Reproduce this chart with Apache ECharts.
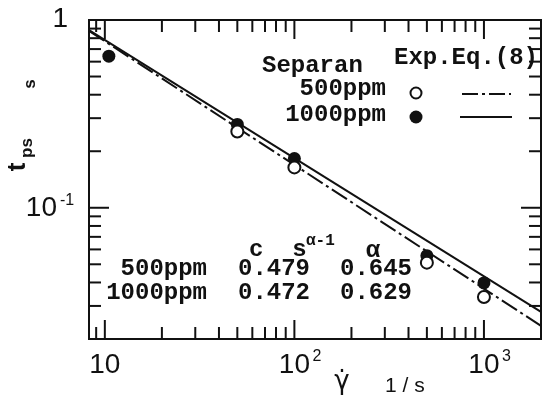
<!DOCTYPE html>
<html>
<head>
<meta charset="utf-8">
<script src="https://cdn.jsdelivr.net/npm/echarts@6.0.0/dist/echarts.min.js"></script>
<style>
  html, body { margin: 0; padding: 0; background: #fff; }
  #chart { width: 544px; height: 398px; }
</style>
</head>
<body>
<div id="chart"></div>
<script>
// axis ranges (log-log)
const xMin = 8.25, xMax = 2000;
const yMin = 0.02, yMax = 1;

// measured points, Separan solutions
const shear500 = [50, 100, 500, 1000];
const tps500 = [0.255, 0.164, 0.051, 0.0335];
const shear1000 = [10.5, 50, 100, 500, 1000];
const tps1000 = [0.642, 0.278, 0.183, 0.0556, 0.0398];

// Eq.(8) lines, read at the plot edges
const fitShear = [8.25, 2000];
const fit500 = [0.875, 0.0235];
const fit1000 = [0.884, 0.0279];

// fit parameter table
const tableNames = ['500ppm', '1000ppm'];
const tableC = ['0.479', '0.472'];
const tableAlpha = ['0.645', '0.629'];

// ticks
const xMajor = [10, 100, 1000];
const xMinor = [9, 20, 30, 40, 50, 60, 70, 80, 90, 200, 300, 400, 500, 600, 700, 800, 900];
const yMajor = [1, 0.1];
const yMinor = [0.02, 0.03, 0.04, 0.05, 0.06, 0.07, 0.08, 0.09, 0.2, 0.3, 0.4, 0.5, 0.6, 0.7, 0.8, 0.9];
const xLabels = [['10', ''], ['10', '2'], ['10', '3']];
const yLabels = [['1', ''], ['10', '-1']];

const ink = '#111';
const sans = 'Liberation Sans';
const mono = 'Liberation Mono';
const monoSize = 24;

const chart = echarts.init(document.getElementById('chart'));

function tickLine(x1, y1, x2, y2) {
    return { type: 'line', shape: { x1: x1, y1: y1, x2: x2, y2: y2 }, style: { stroke: ink, lineWidth: 2 } };
}

function txt(text, x, y, size, align, opts) {
    opts = opts || {};
    return {
        type: 'text', x: x, y: y, rotation: opts.rotation || 0, z: 100,
        style: {
            text: text, fill: ink, align: align, verticalAlign: 'middle',
            fontSize: size, fontFamily: opts.family || mono, fontWeight: opts.weight || 'bold'
        }
    };
}

const xTickData = xMajor.map(v => [v, yMin, 1]).concat(xMinor.map(v => [v, yMin, 0]));
const yTickData = yMajor.map(v => [xMin, v, 1]).concat(yMinor.map(v => [xMin, v, 0]));
const xLabelData = xMajor.map((v, i) => [v, yMin, i]);
const yLabelData = yMajor.map((v, i) => [xMin, v, i]);

const option = {
    animation: false,
    backgroundColor: '#fff',
    grid: { left: 89, top: 20, width: 452, height: 319, show: true, borderColor: ink, borderWidth: 2, backgroundColor: 'transparent' },
    xAxis: {
        type: 'log', logBase: 10, min: xMin, max: xMax,
        axisLine: { show: false }, axisTick: { show: false }, axisLabel: { show: false }, splitLine: { show: false }
    },
    yAxis: {
        type: 'log', logBase: 10, min: yMin, max: yMax,
        axisLine: { show: false }, axisTick: { show: false }, axisLabel: { show: false }, splitLine: { show: false }
    },
    series: [
        {
            type: 'custom', clip: false, silent: true, data: xTickData,
            renderItem: function (params, api) {
                const b = api.coord([api.value(0), yMin]);
                const t = api.coord([api.value(0), yMax]);
                const len = api.value(2) ? 19 : 12;
                return { type: 'group', children: [tickLine(b[0], b[1], b[0], b[1] - len), tickLine(t[0], t[1], t[0], t[1] + len)] };
            }
        },
        {
            type: 'custom', clip: false, silent: true, data: yTickData,
            renderItem: function (params, api) {
                const l = api.coord([xMin, api.value(1)]);
                const r = api.coord([xMax, api.value(1)]);
                const len = api.value(2) ? 20 : 12;
                return { type: 'group', children: [tickLine(l[0], l[1], l[0] + len, l[1]), tickLine(r[0], r[1], r[0] - len, r[1])] };
            }
        },
        {
            type: 'custom', clip: false, silent: true, data: xLabelData,
            renderItem: function (params, api) {
                const p = api.coord([api.value(0), yMin]);
                const lab = xLabels[api.value(2)];
                const kids = [txt(lab[0], p[0], p[1] + 26, 28, 'center', { family: sans, weight: 'normal' })];
                if (lab[1]) kids.push(txt(lab[1], p[0] + 18, p[1] + 18, 16, 'left', { family: sans, weight: 'normal' }));
                return { type: 'group', children: kids };
            }
        },
        {
            type: 'custom', clip: false, silent: true, data: yLabelData,
            renderItem: function (params, api) {
                const p = api.coord([xMin, api.value(1)]);
                const lab = yLabels[api.value(2)];
                const kids = [];
                if (lab[1]) {
                    kids.push(txt(lab[0], p[0] - 32, p[1] + 1, 28, 'right', { family: sans, weight: 'normal' }));
                    kids.push(txt(lab[1], p[0] - 29, p[1] - 7, 16, 'left', { family: sans, weight: 'normal' }));
                } else {
                    kids.push(txt(lab[0], p[0] - 21, p[1] - 1, 28, 'right', { family: sans, weight: 'normal' }));
                }
                return { type: 'group', children: kids };
            }
        },
        {
            name: 'Eq8 500ppm', type: 'line', showSymbol: false, silent: true,
            data: fitShear.map((x, i) => [x, fit500[i]]),
            lineStyle: { color: ink, width: 2, type: [18, 4, 3, 4] }
        },
        {
            name: 'Eq8 1000ppm', type: 'line', showSymbol: false, silent: true,
            data: fitShear.map((x, i) => [x, fit1000[i]]),
            lineStyle: { color: ink, width: 2 }
        },
        {
            name: '1000ppm', type: 'scatter', symbol: 'circle', symbolSize: 13, z: 5,
            data: shear1000.map((x, i) => [x, tps1000[i]]),
            itemStyle: { color: ink, opacity: 1 }
        },
        {
            name: '500ppm', type: 'scatter', symbol: 'circle', symbolSize: 12, z: 6,
            data: shear500.map((x, i) => [x, tps500[i]]),
            itemStyle: { color: '#fff', borderColor: ink, borderWidth: 2, opacity: 1 }
        }
    ],
    graphic: [
        // legend block
        txt('Separan', 262, 66, monoSize, 'left'),
        txt('Exp.Eq.(8)', 394, 58, monoSize, 'left'),
        txt('500ppm', 386, 89, monoSize, 'right'),
        txt('1000ppm', 386, 115, monoSize, 'right'),
        { type: 'circle', shape: { cx: 416, cy: 93, r: 5.5 }, style: { fill: '#fff', stroke: ink, lineWidth: 2 } },
        { type: 'circle', shape: { cx: 416, cy: 117, r: 6.5 }, style: { fill: ink } },
        { type: 'line', shape: { x1: 462, y1: 94, x2: 511, y2: 94 }, style: { stroke: ink, lineWidth: 2, lineDash: [16, 4, 3, 4] } },
        { type: 'line', shape: { x1: 460, y1: 117, x2: 512, y2: 117 }, style: { stroke: ink, lineWidth: 2 } },
        // table header
        txt('c  s', 249, 250, monoSize, 'left'),
        txt('α-1', 306, 241, 16, 'left'),
        txt('α', 373, 251, monoSize, 'center'),
        txt(tableNames[0], 207, 269, monoSize, 'right'),
        txt(tableNames[1], 207, 293, monoSize, 'right'),
        txt(tableC[0], 238, 269, monoSize, 'left'),
        txt(tableC[1], 238, 293, monoSize, 'left'),
        txt(tableAlpha[0], 340, 269, monoSize, 'left'),
        txt(tableAlpha[1], 340, 293, monoSize, 'left'),
        // axis titles
        txt('t', 18, 167, 26, 'center', { family: sans, rotation: Math.PI / 2 }),
        txt('ps', 27, 148, 17, 'center', { family: sans, rotation: Math.PI / 2 }),
        txt('s', 30, 84, 17, 'center', { family: sans, rotation: Math.PI / 2 }),
        txt('γ\u0307', 342, 382, 26, 'center', { family: 'DejaVu Sans', weight: 'normal' }),
        txt('1 / s', 385, 386, 21, 'left', { family: sans, weight: 'normal' })
    ]
};

chart.setOption(option);
</script>
</body>
</html>
